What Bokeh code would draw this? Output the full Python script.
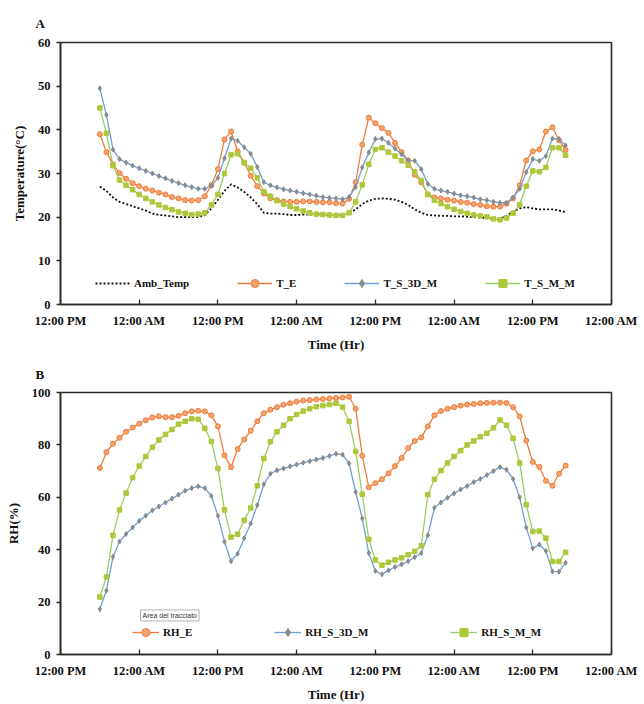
from bokeh.plotting import figure
from bokeh.layouts import column
from bokeh.models import Range1d, FixedTicker, Legend, LegendItem, Label
from bokeh.embed import file_html
from bokeh.resources import INLINE

# ---------------- data ----------------
# hours elapsed since the first 12:00 PM tick (hourly readings)
hours = list(range(6, 78))

tick_hours = [0, 12, 24, 36, 48, 60, 72, 84]
tick_labels = ["12:00 PM", "12:00 AM", "12:00 PM", "12:00 AM",
               "12:00 PM", "12:00 AM", "12:00 PM", "12:00 AM"]

amb_temp = [27.0, 26.0, 24.5, 23.5, 23.0, 22.5, 22.0, 21.5, 20.8, 20.5,
            20.4, 20.2, 20.0, 20.0, 20.0, 20.0, 20.5, 22.0, 24.0, 26.0,
            27.5, 26.8, 25.8, 24.5, 23.0, 21.0, 20.8, 20.8, 20.7, 20.5,
            20.5, 20.6, 20.6, 20.6, 20.7, 20.5, 20.4, 20.4, 20.8, 21.8,
            23.0, 23.8, 24.2, 24.3, 24.2, 24.0, 23.5, 22.8, 21.8, 21.0,
            20.5, 20.4, 20.3, 20.3, 20.2, 20.2, 20.1, 20.0, 19.9, 19.8,
            19.6, 19.7, 20.3, 21.3, 22.0, 22.3, 22.0, 21.8, 21.8, 21.8,
            21.5, 21.2]

t_e = [39.0, 34.9, 32.1, 30.1, 28.8, 27.8, 27.1, 26.5, 26.1, 25.6,
       25.2, 24.6, 24.3, 23.9, 23.8, 23.9, 24.8, 27.3, 31.0, 37.8,
       39.6, 35.1, 32.5, 29.5, 27.1, 25.4, 24.3, 23.9, 23.6, 23.5,
       23.5, 23.6, 23.6, 23.5, 23.4, 23.4, 23.2, 23.1, 24.2, 28.0,
       36.6, 42.8, 41.5, 40.4, 39.3, 37.0, 34.9, 33.0, 29.7, 28.0,
       25.2, 24.5, 24.3, 24.0, 23.8, 23.5, 23.3, 23.0, 22.8, 22.5,
       22.4, 22.4, 23.1, 24.3, 27.3, 33.0, 35.1, 35.5, 39.6, 40.6,
       37.6, 35.4]

t_s_3d_m = [49.5, 43.4, 35.5, 33.3, 32.5, 31.8, 31.2, 30.6, 30.0, 29.4,
            28.9, 28.3, 27.8, 27.3, 26.9, 26.5, 26.5, 27.2, 29.0, 33.5,
            38.0, 37.5, 36.0, 34.5, 31.5, 28.0, 27.3, 26.8, 26.4, 26.1,
            25.8, 25.5, 25.2, 24.9, 24.6, 24.4, 24.3, 24.1, 24.6, 26.9,
            31.4, 34.8, 37.9, 38.0, 37.0, 35.7, 34.4, 33.0, 32.9, 31.0,
            27.6, 26.5, 26.1, 25.8, 25.4, 25.0, 24.8, 24.5, 24.1, 23.9,
            23.5, 23.3, 23.3, 24.5, 26.5, 30.3, 33.3, 32.9, 34.0, 38.0,
            37.9, 36.4]

t_s_m_m = [45.0, 39.2, 31.8, 28.5, 27.3, 26.3, 25.2, 24.3, 23.5, 22.8,
           22.2, 21.7, 21.2, 20.9, 20.6, 20.7, 21.0, 22.8, 25.2, 30.0,
           34.3, 34.5, 32.5, 31.2, 29.0, 25.8, 24.8, 23.8, 23.0, 22.4,
           21.9, 21.4, 21.0, 20.7, 20.6, 20.5, 20.4, 20.4, 21.0, 23.5,
           27.4, 32.1, 35.5, 35.9, 34.9, 34.0, 32.9, 31.9, 30.4, 28.4,
           25.2, 23.9, 23.1, 22.4, 21.8, 21.3, 20.9, 20.5, 20.3, 20.1,
           19.6, 19.4, 19.8, 20.9, 22.9, 27.1, 30.6, 30.4, 31.4, 35.9,
           35.9, 34.2]

rh_e = [71.2, 77.2, 80.4, 82.7, 85.0, 86.6, 88.1, 89.4, 90.5, 90.9,
        90.6, 90.6, 91.1, 92.1, 92.8, 93.0, 92.8, 91.3, 87.1, 76.0,
        71.5, 78.4, 82.1, 85.4, 89.0, 92.1, 93.4, 94.4, 95.3, 95.9,
        96.5, 96.9, 97.1, 97.4, 97.5, 97.7, 97.9, 98.1, 98.4, 93.8,
        75.9, 63.8, 65.4, 66.9, 69.1, 71.9, 75.0, 78.8, 81.5, 82.9,
        87.1, 91.3, 92.9, 93.8, 94.4, 95.0, 95.4, 95.6, 95.9, 96.0,
        96.1, 96.1, 96.0, 94.4, 90.9, 81.6, 73.5, 71.6, 66.3, 64.4,
        69.0, 72.1]

rh_s_3d_m = [17.3, 24.4, 37.3, 43.1, 46.0, 48.5, 51.0, 53.0, 55.0, 56.5,
             58.0, 59.5, 61.0, 62.5, 63.5, 64.2, 63.5, 60.5, 53.0, 43.0,
             35.6, 38.5, 44.4, 50.0, 57.0, 65.0, 69.0, 70.3, 71.0, 71.8,
             72.5, 73.2, 73.8, 74.4, 75.0, 75.8, 76.6, 76.3, 72.9, 62.0,
             52.0, 38.7, 31.9, 30.6, 32.1, 33.4, 34.4, 35.6, 37.1, 38.7,
             45.5, 56.0, 58.0, 59.8, 61.5, 63.0, 64.3, 65.8, 67.0, 68.5,
             70.0, 71.5, 70.5, 67.0, 60.0, 48.5, 40.5, 42.0, 39.5, 31.7,
             31.6, 35.0]

rh_s_m_m = [21.9, 29.6, 45.5, 55.2, 61.6, 67.5, 71.9, 75.6, 79.1, 81.9,
            84.0, 85.9, 87.9, 89.0, 90.0, 89.8, 86.3, 81.3, 71.0, 55.2,
            44.8, 45.9, 51.2, 55.9, 64.4, 74.8, 81.2, 85.0, 87.5, 90.0,
            91.6, 92.9, 93.8, 94.6, 95.0, 95.4, 95.9, 94.4, 89.0, 77.5,
            61.2, 44.0, 36.1, 34.1, 35.2, 36.1, 36.9, 38.1, 39.4, 41.5,
            61.0, 66.9, 70.2, 73.1, 75.6, 77.8, 80.0, 81.5, 83.1, 84.4,
            86.5, 89.5, 87.5, 82.5, 73.1, 57.2, 46.9, 47.1, 44.4, 35.5,
            35.5, 39.0]

# ---------------- styles ----------------
SERIF = "Liberation Serif"
ORANGE = "#EE7B3A"
ORANGE_FILL = "#F6A46F"
BLUE = "#6E9FD6"
GRAY = "#8A8A8A"
GREEN = "#97CF62"
GREEN_MK = "#AFC73A"


def base_fig(height, top, ymax, ystep, ylabel, title, standoff):
    p = figure(width=644, height=height, output_backend="svg",
               toolbar_location=None, x_range=Range1d(0, 84),
               y_range=Range1d(0, ymax), min_border_left=60,
               min_border_right=33, min_border_top=top,
               min_border_bottom=46)
    p.grid.visible = False
    p.background_fill_color = "white"
    p.border_fill_color = "white"
    p.outline_line_color = "#2b2b2b"
    p.outline_line_width = 1.6

    p.title.text = title
    p.title.align = "left"
    p.title.vertical_align = "bottom"
    p.title.offset = -25
    p.title.standoff = standoff
    p.title.text_font = SERIF
    p.title.text_font_size = "13px"
    p.title.text_font_style = "bold"
    p.title.text_color = "#111111"

    xa = p.xaxis[0]
    xa.ticker = FixedTicker(ticks=tick_hours)
    xa.major_label_overrides = {h: s for h, s in zip(tick_hours, tick_labels)}
    xa.major_tick_in = 5
    xa.major_tick_out = 0
    xa.minor_tick_line_color = None
    xa.major_label_standoff = 9
    xa.axis_label = "Time (Hr)"
    xa.axis_label_standoff = 6

    ya = p.yaxis[0]
    ya.ticker = FixedTicker(ticks=list(range(0, ymax + 1, ystep)))
    ya.major_tick_in = 0
    ya.major_tick_out = 4
    ya.minor_tick_line_color = None
    ya.major_label_standoff = 6
    ya.axis_label = ylabel
    ya.axis_label_standoff = 8

    for ax in (xa, ya):
        ax.axis_line_color = "#2b2b2b"
        ax.axis_line_width = 1.6
        ax.major_tick_line_color = "#2b2b2b"
        ax.major_tick_line_width = 1.3
        ax.major_label_text_font = SERIF
        ax.major_label_text_font_style = "bold"
        ax.major_label_text_font_size = "12.5px"
        ax.major_label_text_color = "#111111"
        ax.axis_label_text_font = SERIF
        ax.axis_label_text_font_style = "bold"
        ax.axis_label_text_font_size = "13px"
        ax.axis_label_text_color = "#111111"
    return p


def series(p, y, color, marker=None, mcolor=None, mfill=None, size=5,
           dash="solid", width=1.3):
    r = [p.line(hours, y, line_color=color, line_width=width, line_dash=dash)]
    if marker:
        r.append(p.scatter(hours, y, marker=marker, size=size,
                           line_color=mcolor, fill_color=mfill,
                           line_width=1.0))
    return r


def add_legend(p, items, loc, spacing, glyph_width):
    leg = Legend(items=[LegendItem(label=l, renderers=r) for l, r in items],
                 orientation="horizontal", location=loc,
                 spacing=spacing, glyph_width=glyph_width, glyph_height=20,
                 label_height=20, label_standoff=4, padding=0, margin=0,
                 border_line_color=None, background_fill_alpha=0,
                 label_text_font=SERIF, label_text_font_style="bold",
                 label_text_font_size="11px", label_text_color="#111111")
    p.add_layout(leg)


# ---------------- panel A ----------------
pa = base_fig(354, 42, 60, 10, "Temperature(\u00b0C)", "A", 23)
ra = series(pa, amb_temp, "#111111", dash="2 2", width=1.8)
rb = series(pa, t_e, ORANGE, "circle", ORANGE, ORANGE_FILL, 5)
rc = series(pa, t_s_3d_m, BLUE, "diamond", GRAY, GRAY, 5)
rd = series(pa, t_s_m_m, GREEN, "square", GREEN_MK, GREEN_MK, 4.5)
add_legend(pa, [("Amb_Temp", ra), ("T_E", rb), ("T_S_3D_M", rc),
                ("T_S_M_M", rd)], (35, 11), 48, 35)

# ---------------- panel B ----------------
pb = base_fig(350, 38, 100, 20, "RH(%)", "B", 21)
re_ = series(pb, rh_e, ORANGE, "circle", ORANGE, ORANGE_FILL, 5)
rf = series(pb, rh_s_3d_m, BLUE, "diamond", GRAY, GRAY, 5)
rg = series(pb, rh_s_m_m, GREEN, "square", GREEN_MK, GREEN_MK, 4.5)
add_legend(pb, [("RH_E", re_), ("RH_S_3D_M", rf), ("RH_S_M_M", rg)],
           (72, 12), 82, 27)

tip = Label(x=12.2, y=12.8, text="Area del tracciato", text_font_size="7px",
            text_font="Liberation Sans", text_color="#333333",
            border_line_color="#b0b0b0", border_line_width=1,
            background_fill_color="white", padding=2)
pb.add_layout(tip)

layout = column(pa, pb, spacing=0)
open("out.html", "w").write(file_html(layout, INLINE))
